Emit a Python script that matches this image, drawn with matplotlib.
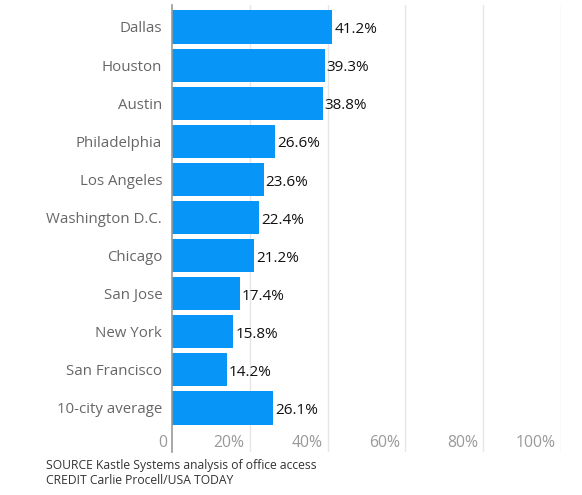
import matplotlib.pyplot as plt

cities = ['Dallas', 'Houston', 'Austin', 'Philadelphia', 'Los Angeles',
          'Washington D.C.', 'Chicago', 'San Jose', 'New York',
          'San Francisco', '10-city average']
values = [41.2, 39.3, 38.8, 26.6, 23.6, 22.4, 21.2, 17.4, 15.8, 14.2, 26.1]
ticks = [0, 20, 40, 60, 80, 100]
tick_labels = ['0', '20%', '40%', '60%', '80%', '100%']

plt.rcParams['font.family'] = ['Open Sans', 'DejaVu Sans']

W, H = 582, 495
fig = plt.figure(figsize=(W / 100, H / 100), dpi=100)
x0, x1 = 171.9, 561.0
y_top, y_bot = 5, 452
ax = fig.add_axes([x0 / W, 1 - y_bot / H, (x1 - x0) / W, (y_bot - y_top) / H])

pos = list(range(len(cities)))
ax.barh(pos, values, height=0.87, color='#0796f7', zorder=3)
for p, v in zip(pos, values):
    ax.text(v + 0.5, p + 0.07, f'{v}%', va='center', ha='left', fontsize=11,
            color='#111111', zorder=4)

ax.set_xlim(0, 100)
ax.set_ylim(11.155, -0.577)
ax.set_yticks(pos)
ax.set_yticklabels(cities, fontsize=10.8, color='#666666')
ax.tick_params(axis='y', length=0, pad=7)
ax.set_xticks([])

for t, lab in zip(ticks, tick_labels):
    if t > 0:
        ax.axvline(t, color='#e6e6e6', lw=1, zorder=1)
    ax.text(t - 1.3, 10.92, lab, ha='right', va='center', fontsize=11.3,
            color='#999999')

for s in ['top', 'right', 'bottom']:
    ax.spines[s].set_visible(False)
ax.spines['left'].set_color('#999999')
ax.spines['left'].set_linewidth(1.2)
ax.spines['left'].set_zorder(5)

fig.text(46 / W, 1 - 465 / H, 'SOURCE Kastle Systems analysis of office access',
         fontsize=8.7, color='#333333', va='center')
fig.text(46 / W, 1 - 481 / H, 'CREDIT Carlie Procell/USA TODAY',
         fontsize=8.7, color='#333333', va='center')

fig.savefig('out.png', dpi=100, facecolor='white')
